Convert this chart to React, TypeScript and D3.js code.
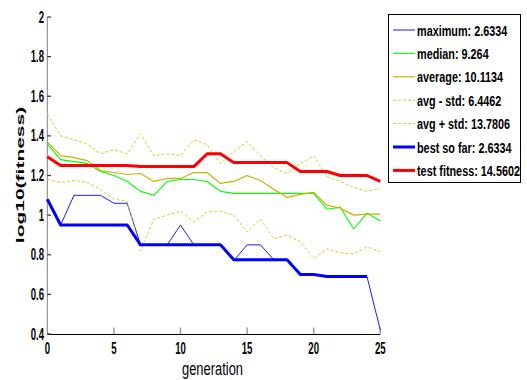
import React from 'react';
import * as d3 from 'd3';

// generations 0..25
const generation = [0, 1, 2, 3, 4, 5, 6, 7, 8, 9, 10, 11, 12, 13, 14, 15, 16, 17, 18, 19, 20, 21, 22, 23, 24, 25];

const maximum = [1.08, 0.95, 1.10, 1.10, 1.10, 1.06, 1.06, 0.85, 0.85, 0.85, 0.95, 0.85, 0.85, 0.85, 0.77, 0.85, 0.85, 0.775, 0.775, 0.70, 0.70, 0.69, 0.69, 0.69, 0.69, 0.42];
const median = [1.36, 1.28, 1.27, 1.26, 1.22, 1.20, 1.17, 1.12, 1.10, 1.17, 1.18, 1.18, 1.17, 1.12, 1.11, 1.11, 1.11, 1.11, 1.11, 1.11, 1.11, 1.03, 1.04, 0.93, 1.01, 0.97];
const average = [1.37, 1.30, 1.29, 1.275, 1.225, 1.215, 1.205, 1.21, 1.17, 1.185, 1.185, 1.215, 1.215, 1.16, 1.17, 1.20, 1.175, 1.13, 1.09, 1.105, 1.115, 1.05, 1.035, 1.00, 1.005, 1.005];
const avgMinusStd = [1.18, 1.165, 1.175, 1.165, 1.13, 1.08, 1.07, 0.82, 0.98, 1.00, 1.02, 0.965, 1.015, 1.02, 1.00, 0.915, 0.98, 0.88, 0.90, 0.865, 0.78, 0.83, 0.81, 0.805, 0.84, 0.815];
const avgPlusStd = [1.51, 1.40, 1.38, 1.36, 1.31, 1.33, 1.31, 1.41, 1.30, 1.31, 1.30, 1.38, 1.355, 1.26, 1.32, 1.37, 1.30, 1.24, 1.21, 1.26, 1.30, 1.195, 1.17, 1.14, 1.12, 1.135];
// thick line in the picture stops at generation 24
const bestSoFar = [1.08, 0.95, 0.95, 0.95, 0.95, 0.95, 0.95, 0.85, 0.85, 0.85, 0.85, 0.85, 0.85, 0.85, 0.775, 0.775, 0.775, 0.775, 0.775, 0.70, 0.70, 0.69, 0.69, 0.69, 0.69];
const testFitness = [1.295, 1.25, 1.25, 1.25, 1.25, 1.25, 1.25, 1.245, 1.245, 1.245, 1.245, 1.245, 1.31, 1.31, 1.265, 1.265, 1.265, 1.265, 1.265, 1.22, 1.22, 1.22, 1.20, 1.20, 1.20, 1.17];

const yTicks = [0.4, 0.6, 0.8, 1, 1.2, 1.4, 1.6, 1.8, 2];
const xTicks = [0, 5, 10, 15, 20, 25];

const legendLabels = [
  'maximum: 2.6334',
  'median: 9.264',
  'average: 10.1134',
  'avg - std: 6.4462',
  'avg + std: 13.7806',
  'best so far: 2.6334',
  'test fitness: 14.5602',
];

const series = [
  { values: maximum, color: '#1a1aff', width: 1, dash: '' },
  { values: median, color: '#00ff00', width: 1.1, dash: '' },
  { values: average, color: '#c8b400', width: 1.2, dash: '' },
  { values: avgMinusStd, color: '#d6ce30', width: 1, dash: '3,2' },
  { values: avgPlusStd, color: '#d6ce30', width: 1, dash: '3,2' },
  { values: bestSoFar, color: '#0000ff', width: 3, dash: '' },
  { values: testFitness, color: '#ff0000', width: 3, dash: '' },
];

const W = 527;
const H = 380;
const font = '"Liberation Sans", Arial, sans-serif';

const App: React.FC = () => {
  const x = d3.scaleLinear().domain([0, 25]).range([47.3, 380.3]);
  const y = d3.scaleLinear().domain([0.4, 2]).range([334, 17]);

  const line = (vals: number[]) =>
    d3.line<number>()
      .x((_, i) => x(generation[i]))
      .y(d => y(d))(vals) || '';

  return (
    <div style={{ position: 'absolute', left: 0, top: 0 }}>
      <svg width={W} height={H} style={{ display: 'block', background: '#fff' }}>
        {/* axes */}
        <line x1={47.3} x2={47.3} y1={17} y2={334} stroke="#808080" strokeWidth={1} />
        <line x1={47.3} x2={380.3} y1={334.5} y2={334.5} stroke="#000" strokeWidth={1.2} />

        {yTicks.map(t => (
          <g key={'y' + t}>
            <line x1={47.3} x2={51} y1={y(t)} y2={y(t)} stroke="#333" strokeWidth={1.2} />
            <text
              transform={`translate(44,${y(t) + 5.5}) scale(0.6,1)`}
              textAnchor="end" fontFamily={font} fontWeight="bold" fontSize={16}
            >{String(t)}</text>
          </g>
        ))}

        {xTicks.map(t => (
          <g key={'x' + t}>
            {t > 0 && <line x1={x(t)} x2={x(t)} y1={334} y2={327.5} stroke="#a0a0a0" strokeWidth={1.6} />}
            <text
              transform={`translate(${x(t)},353.5) scale(0.6,1)`}
              textAnchor="middle" fontFamily={font} fontWeight="bold" fontSize={16}
            >{String(t)}</text>
          </g>
        ))}

        {series.map((s, i) => (
          <path key={i} d={line(s.values)} fill="none" stroke={s.color}
            strokeWidth={s.width} strokeDasharray={s.dash || undefined} strokeLinejoin="round" />
        ))}

        {/* axis labels */}
        <text transform="translate(212.5,375) scale(0.68,1)" textAnchor="middle"
          fontFamily={font} fontSize={19}>generation</text>
        <text transform="translate(24,175) scale(0.52,1) rotate(-90)" textAnchor="middle"
          fontFamily={font} fontWeight="bold" fontSize={21}>log10(fitness)</text>

        {/* legend */}
        <rect x={388.5} y={14.5} width={132} height={168} fill="#fff" stroke="#000" strokeWidth={1} />
        {legendLabels.map((lab, i) => {
          const ly = 30 + i * 23.4;
          const s = series[i];
          return (
            <g key={lab}>
              <line x1={393} x2={415} y1={ly} y2={ly} stroke={s.color}
                strokeWidth={s.width} strokeDasharray={s.dash || undefined} />
              <text transform={`translate(417,${ly + 5.5}) scale(0.7,1)`}
                fontFamily={font} fontWeight="bold" fontSize={15.5}>{lab}</text>
            </g>
          );
        })}
      </svg>
    </div>
  );
};

export default App;
